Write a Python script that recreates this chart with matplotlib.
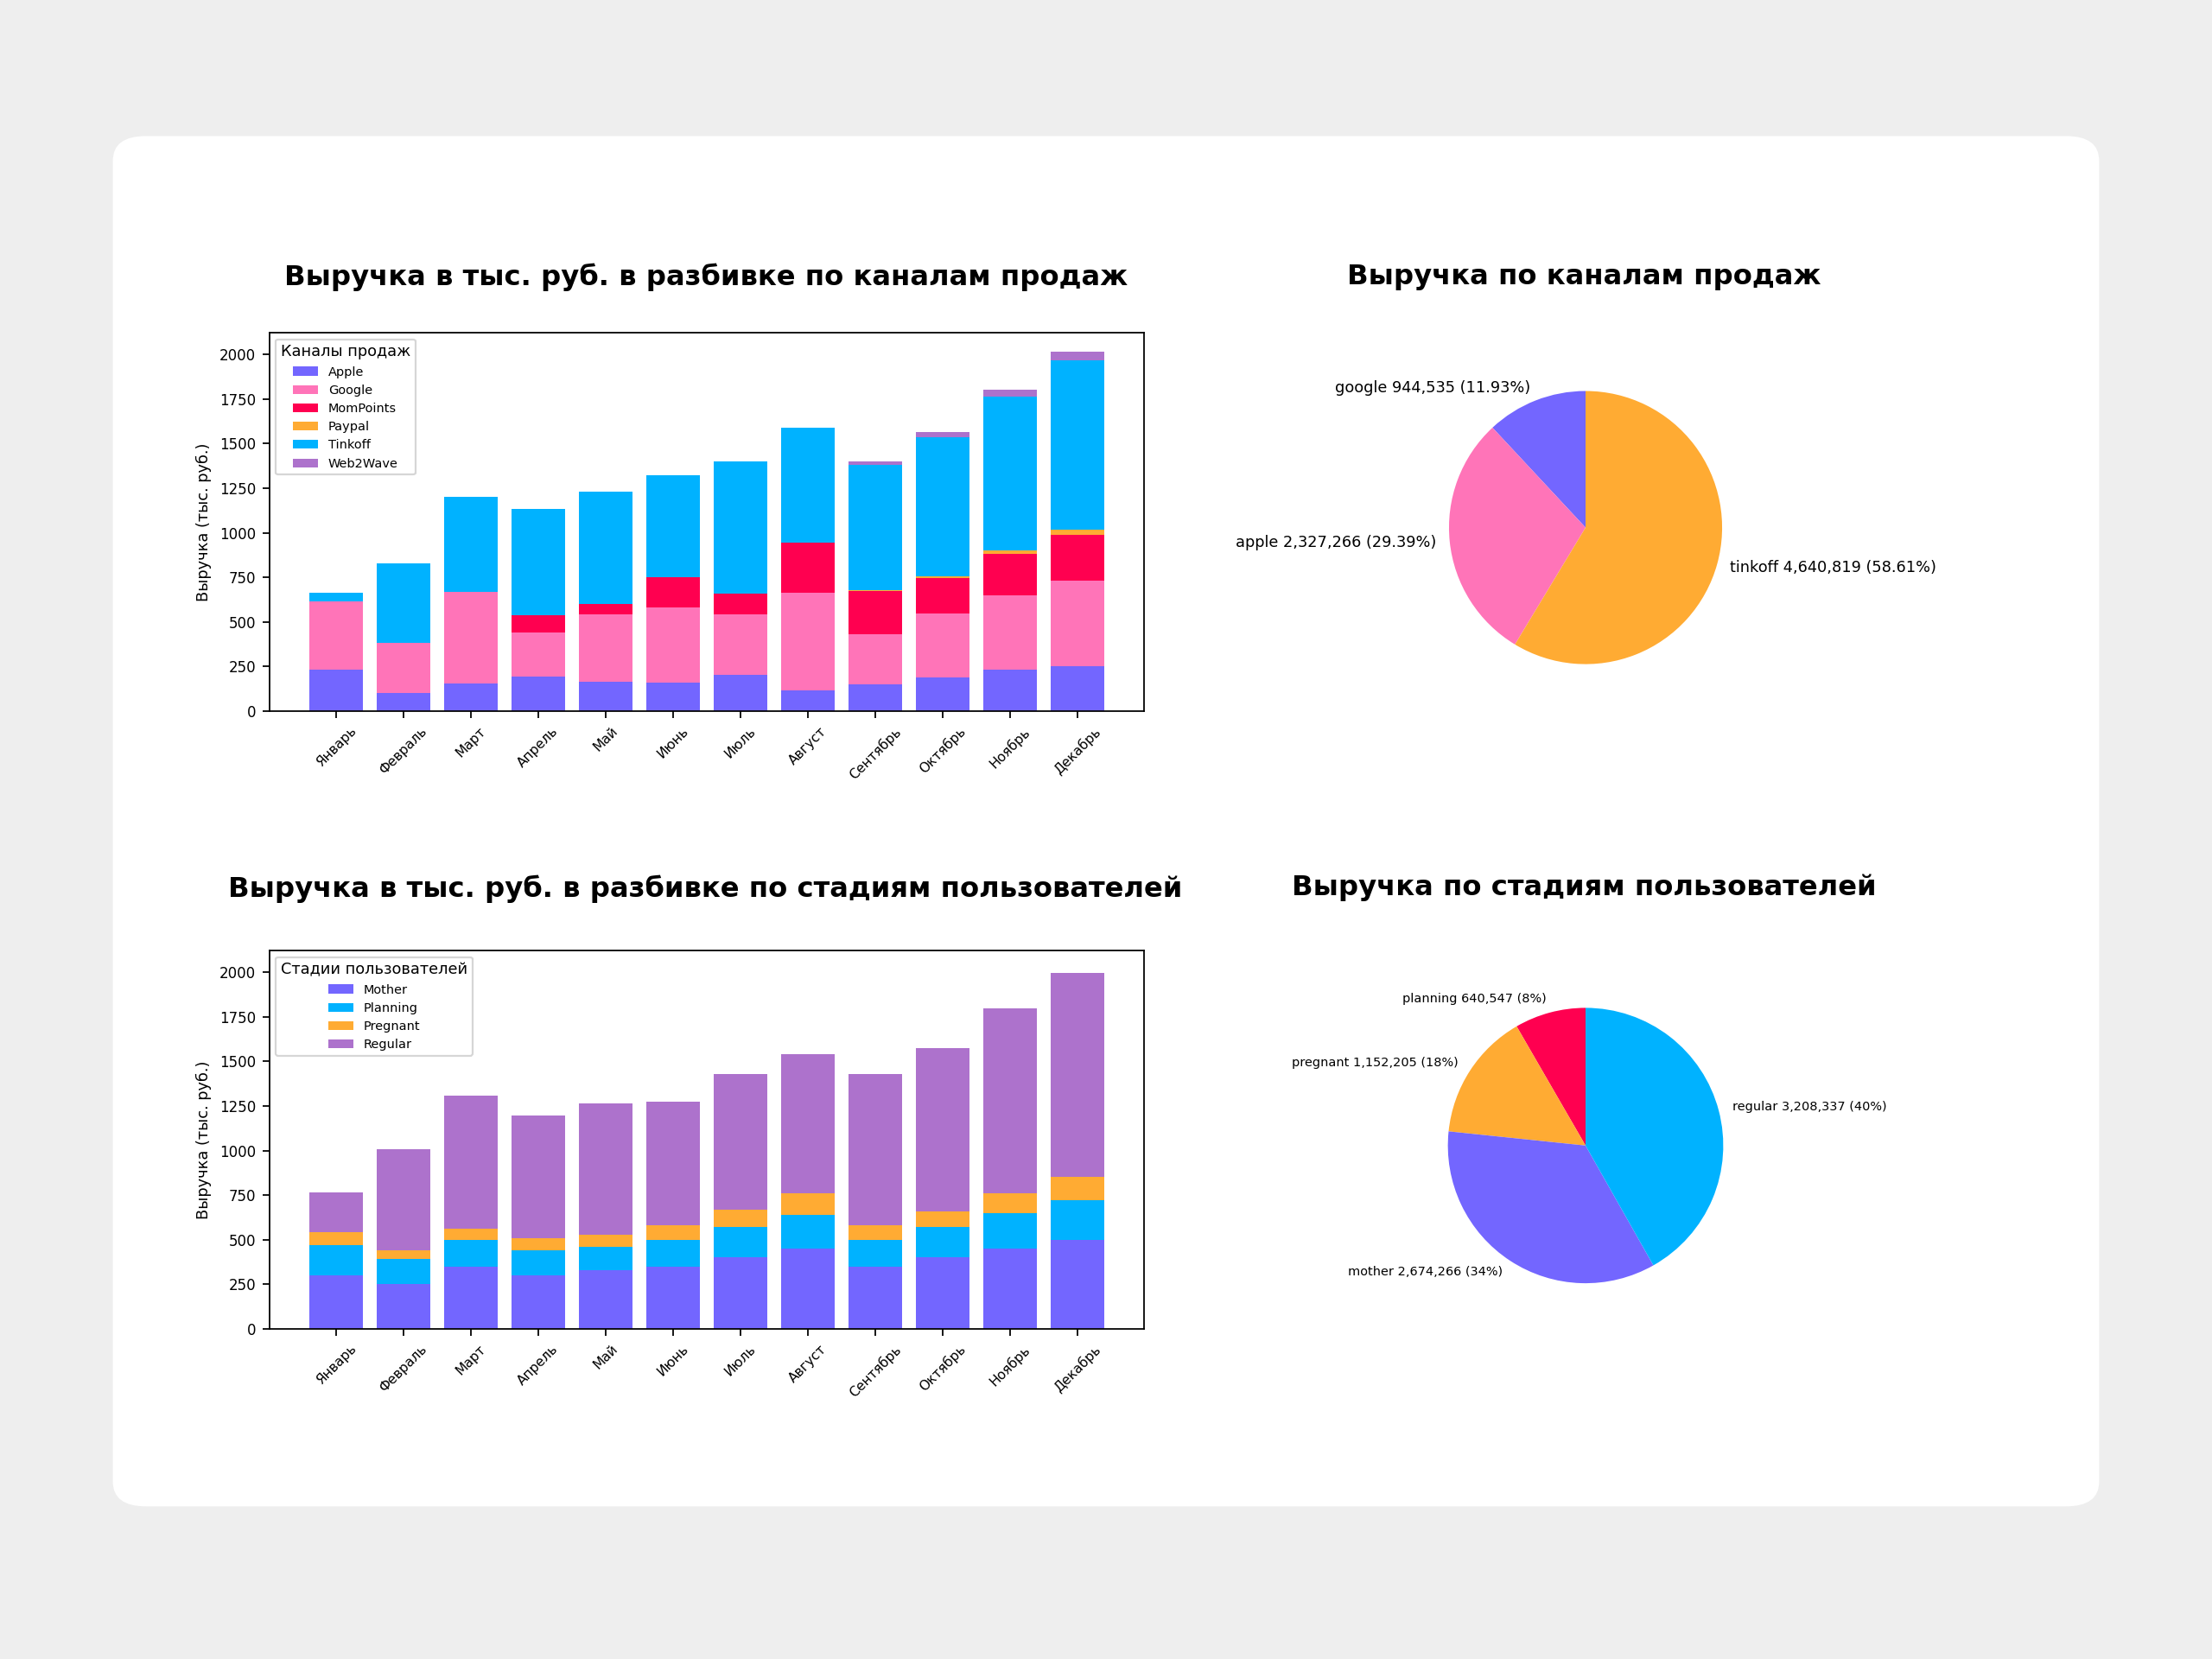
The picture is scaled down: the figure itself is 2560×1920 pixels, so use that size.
import numpy as np
import matplotlib
matplotlib.use("Agg")
import matplotlib.pyplot as plt
from matplotlib.patches import FancyBboxPatch

months = ["Январь", "Февраль", "Март", "Апрель", "Май", "Июнь", "Июль",
          "Август", "Сентябрь", "Октябрь", "Ноябрь", "Декабрь"]

# channel values (thousand rub.)
apple = [230, 100, 155, 195, 165, 160, 205, 115, 150, 190, 230, 250]
google = [385, 280, 515, 245, 375, 420, 335, 550, 280, 355, 420, 480]
mompoints = [0, 0, 0, 95, 60, 170, 120, 280, 245, 200, 230, 260]
paypal = [0, 0, 0, 0, 0, 0, 0, 0, 5, 10, 20, 25]
tinkoff = [50, 450, 530, 600, 630, 570, 740, 645, 700, 780, 865, 950]
web2wave = [0, 0, 0, 0, 0, 0, 0, 0, 20, 30, 35, 50]

# user stage values (thousand rub.)
mother = [300, 250, 350, 300, 330, 350, 400, 450, 350, 400, 450, 500]
planning = [170, 140, 150, 140, 130, 150, 170, 190, 150, 170, 200, 220]
pregnant = [70, 50, 60, 70, 70, 80, 100, 120, 80, 90, 110, 130]
regular = [225, 565, 750, 685, 735, 695, 760, 780, 850, 915, 1035, 1145]

pie1_labels = ["google", "apple", "tinkoff"]
pie1_values = [944535, 2327266, 4640819]
pie1_pct = ["11.93%", "29.39%", "58.61%"]

pie2_labels = ["planning", "pregnant", "mother", "regular"]
pie2_values = [640547, 1152205, 2674266, 3208337]
pie2_pct = ["8%", "18%", "34%", "40%"]

PURPLE = "#7366ff"
PINK = "#ff74b8"
RED = "#ff0050"
ORANGE = "#ffab33"
BLUE = "#00b2ff"
VIOLET = "#ad72cc"

fig = plt.figure(figsize=(16, 12), dpi=160)
fig.patch.set_facecolor("#eeeeee")
card = FancyBboxPatch((0.051, 0.092), 0.898, 0.826, boxstyle="round,pad=0,rounding_size=0.015",
                      transform=fig.transFigure, facecolor="white", edgecolor="none", zorder=-10)
fig.patches.append(card)

title_kw = dict(fontsize=14.5, fontweight="bold", ha="center", va="center", family="DejaVu Sans")
fig.text(0.319, 0.833, "Выручка в тыс. руб. в разбивке по каналам продаж", **title_kw)
fig.text(0.716, 0.833, "Выручка по каналам продаж", **title_kw)
fig.text(0.319, 0.464, "Выручка в тыс. руб. в разбивке по стадиям пользователей", **title_kw)
fig.text(0.716, 0.465, "Выручка по стадиям пользователей", **title_kw)


def stacked(ax, series, names, colors, legend_title):
    x = np.arange(len(months))
    bottom = np.zeros(len(months))
    for vals, name, c in zip(series, names, colors):
        ax.bar(x, vals, bottom=bottom, color=c, label=name, width=0.8)
        bottom += np.array(vals)
    ax.set_xticks(x)
    ax.set_xticklabels(months, rotation=45, fontsize=7)
    ax.tick_params(axis="y", labelsize=7.5)
    ax.set_ylabel("Выручка (тыс. руб.)", fontsize=8)
    ax.set_ylim(0, 2120)
    ax.legend(title=legend_title, loc="upper left", fontsize=6.5, title_fontsize=8)


ax1 = fig.add_axes([0.1218, 0.5714, 0.3954, 0.2279])
stacked(ax1, [apple, google, mompoints, paypal, tinkoff, web2wave],
        ["Apple", "Google", "MomPoints", "Paypal", "Tinkoff", "Web2Wave"],
        [PURPLE, PINK, RED, ORANGE, BLUE, VIOLET], "Каналы продаж")

ax2 = fig.add_axes([0.1218, 0.199, 0.3954, 0.2279])
stacked(ax2, [mother, planning, pregnant, regular],
        ["Mother", "Planning", "Pregnant", "Regular"],
        [PURPLE, BLUE, ORANGE, VIOLET], "Стадии пользователей")

r1w, r1h = 121 / 1568, 121 / 1176
ax3 = fig.add_axes([0.7168 - r1w, 0.682 - r1h, 2 * r1w, 2 * r1h])
labels1 = [f"{n} {v:,} ({p})" for n, v, p in zip(pie1_labels, pie1_values, pie1_pct)]
ax3.pie(pie1_values, labels=labels1, colors=[PURPLE, PINK, ORANGE], startangle=90,
        textprops=dict(fontsize=8))
ax3.set_aspect("equal")

r2w, r2h = 122 / 1568, 122 / 1176
ax4 = fig.add_axes([0.7168 - r2w, 0.3095 - r2h, 2 * r2w, 2 * r2h])
labels2 = [f"{n} {v:,} ({p})" for n, v, p in zip(pie2_labels, pie2_values, pie2_pct)]
ax4.pie(pie2_values, labels=labels2, colors=[RED, ORANGE, PURPLE, BLUE], startangle=90,
        textprops=dict(fontsize=6.5))
ax4.set_aspect("equal")

fig.savefig("out.png", dpi=160, facecolor=fig.get_facecolor())
